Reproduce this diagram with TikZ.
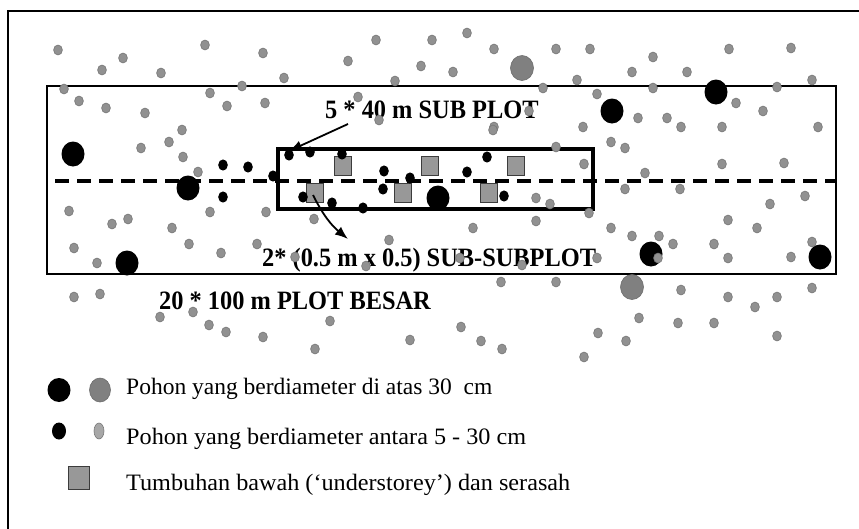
\documentclass[tikz,border=0pt]{standalone}
\usepackage{fontspec}
\usepackage{graphicx}
\setmainfont{Liberation Serif}
\usetikzlibrary{arrows.meta}
\definecolor{dotgray}{RGB}{145,145,145}
\definecolor{dotedge}{RGB}{118,118,118}
\definecolor{biggray}{RGB}{128,128,128}
\definecolor{sqfill}{RGB}{152,152,152}
\definecolor{sqedge}{RGB}{60,60,60}
\tikzset{
  gdot/.style={fill=dotgray, draw=dotedge, line width=0.6pt},
  bdot/.style={fill=black},
  bigg/.style={fill=biggray, draw=biggray!85!black, line width=0.6pt},
  sqbox/.style={fill=sqfill, draw=sqedge, line width=0.9pt},
  lab/.style={anchor=base west, inner sep=0pt, font=\fontsize{26.5}{30}\selectfont\bfseries},
  leg/.style={anchor=base west, inner sep=0pt, font=\fontsize{23.5}{27}\selectfont},
  arr/.style={line width=1.8pt, -{Latex[length=13pt,width=10pt]}},
}
\begin{document}
\begin{tikzpicture}[x=1pt,y=-1pt]
\useasboundingbox (0,0) rectangle (859,528);
\fill[white] (0,0) rectangle (859,528);
% outer frame (cropped on right and bottom)
\draw[line width=1.6pt] (8,540) -- (8,11) -- (870,11);
% big plot
\draw[line width=2.8pt] (47,86) rectangle (836,274);
% dashed centre line
\draw[line width=3.5pt, dash pattern=on 14pt off 8pt] (55,181) -- (836,181);
% sub plot
\draw[line width=4.5pt] (278,149) rectangle (593,209);
% squares
\foreach \x/\y in {343/166,430/166,516/166,315/193,403/193,489/193}
  \draw[sqbox] (\x-8.5,\y-9.5) rectangle (\x+8.5,\y+9.5);
% labels
\node[lab] (l1) at (325,118) {\scalebox{0.92}[1]{5 * 40 m SUB PLOT}};
\node[lab] (l2) at (262,266) {\scalebox{0.92}[1]{2* (0.5 m x 0.5) SUB-SUBPLOT}};
\node[lab] (l3) at (159,309) {\scalebox{0.92}[1]{20 * 100 m PLOT BESAR}};
% arrows
\coordinate (a1s) at (348,124);
\coordinate (a1e) at (289,151);
\draw[arr] (a1s) -- (a1e);
\coordinate (a2s) at (313,195);
\coordinate (a2e) at (348,239);
\draw[arr] (a2s) to[bend right=12] (a2e);
% small black dots
\foreach \x/\y in {223/165,248/167,223/197,273/176,289/155,310/152,303/197,332/203,363/208,384/171,383/189,410/178,467/172,487/157,504/196,342/154}
  \fill[bdot] (\x,\y) ellipse [x radius=4.8pt, y radius=5.6pt];
% gray small dots
\foreach \x/\y in {58/50,102/70,123/58,161/73,205/45,263/53,284/78,348/61,376/40,395/81,421/66,432/40,467/33,494/49,556/49,590/49,653/57,729/49,791/48,453/72,577/80,632/72,687/72,812/80,
64/89,242/86,543/88,653/88,777/87,
79/101,106/108,145/113,210/93,227/106,265/103,358/97,379/120,182/130,169/142,141/148,183/157,198/172,597/94,736/103,763/111,529/111,494/127,583/127,638/118,667/118,681/127,722/127,818/127,611/142,625/148,556/147,493/130,784/163,584/164,645/173,722/164,
69/211,112/224,128/219,172/228,210/212,266/212,314/219,74/248,97/263,189/244,221/253,257/244,295/257,389/240,366/266,473/228,536/198,550/204,536/221,589/213,625/189,680/189,770/204,805/196,611/228,728/220,757/228,632/236,659/236,673/244,714/244,460/258,522/265,597/258,728/258,791/257,
74/297,100/294,501/282,556/282,681/290,728/297,777/297,812/288,755/307,160/317,193/312,209/325,226/332,263/337,315/349,330/321,410/340,639/318,678/323,714/323,461/327,598/333,626/341,481/341,502/349,584/357,777/336}
  \fill[gdot] (\x,\y) ellipse [x radius=4.4pt, y radius=5pt];
% big black trees
\foreach \x/\y in {73/154,188/188,127/263,438/198,612/111,716/92,651/254,820/257}
  \fill[bdot] (\x,\y) ellipse [x radius=11.5pt, y radius=12.5pt];
% big gray trees
\foreach \x/\y in {522/68,632/287}
  \fill[bigg] (\x,\y) ellipse [x radius=11.5pt, y radius=12.5pt];
% gray dots over big black trees
\foreach \x/\y in {658/258,812/242}
  \fill[gdot] (\x,\y) ellipse [x radius=4.4pt, y radius=5pt];
% legend
\fill[bdot] (59,390) ellipse [x radius=11.5pt, y radius=12pt];
\fill[bigg] (100,390) ellipse [x radius=10.5pt, y radius=12pt];
\fill[bdot] (59,431) ellipse [x radius=7pt, y radius=8.5pt];
\fill[gdot, fill=dotgray!80!white] (99,431) ellipse [x radius=5pt, y radius=8pt];
\draw[sqbox] (68,466) rectangle (89,489);
\node[leg] (t1) at (126,394) {Pohon yang berdiameter di atas 30~ cm};
\node[leg] (t2) at (126,444) {\scalebox{1.03}[1]{Pohon yang berdiameter antara 5 - 30 cm}};
\node[leg] (t3) at (126,490) {\scalebox{1.03}[1]{Tumbuhan bawah (‘understorey’) dan serasah}};
\end{tikzpicture}
\end{document}
